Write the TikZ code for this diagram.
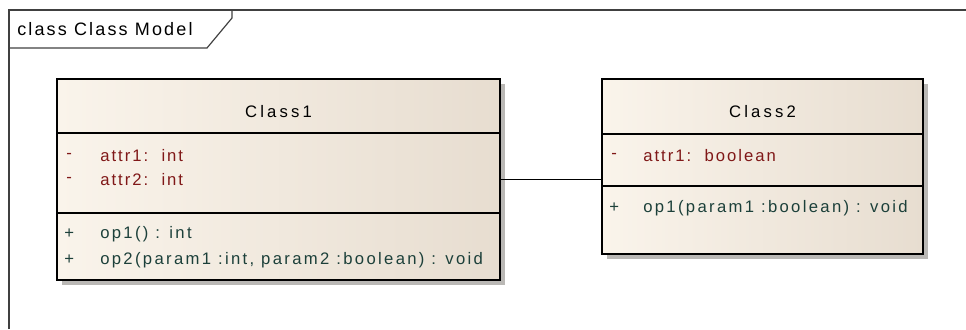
\documentclass[tikz,border=0pt]{standalone}
\usepackage{fontspec}
\setmainfont{Liberation Sans}[LetterSpace=12]

\definecolor{attrred}{RGB}{128,24,24}
\definecolor{opgreen}{RGB}{28,64,58}
\definecolor{boxdark}{RGB}{231,221,208}
\definecolor{boxlight}{RGB}{250,244,235}
\definecolor{shadowgray}{RGB}{186,184,181}

\tikzset{
  classbox/.style={draw, line width=1.2pt, rectangle, inner sep=0pt,
    left color=boxlight, right color=boxdark},
  shadowbox/.style={fill=shadowgray, draw=none},
  membertext/.style={anchor=west, inner sep=0pt, font=\fontsize{12.5}{14}\selectfont},
  attrtext/.style={membertext, text=attrred},
  optext/.style={membertext, text=opgreen, font=\fontsize{12.5}{14}\selectfont\addfontfeatures{LetterSpace=14}},
  titletext/.style={inner sep=0pt, font=\fontsize{12.5}{14}\selectfont\addfontfeatures{LetterSpace=19}}
}

\begin{document}
\begin{tikzpicture}[x=0.75pt,y=0.75pt,yscale=-1,xscale=1]
	\useasboundingbox (0,0) rectangle (966,329);

	% diagram frame and its name tab
	\draw [line width=1pt, draw=black!75] (9,329) -- (9,10) -- (966,10) ;
	\draw [line width=0.9pt, draw=black!75] (9,48) -- (207,48) -- (232,18) -- (232,10) ;
	\node [anchor=west, inner sep=0pt, font=\fontsize{13.5}{15}\selectfont] (frametab) at (17,29) {class Class Model};

	% drop shadows
	\fill [shadowbox] (62,84) rectangle (505,285) ;
	\fill [shadowbox] (607,84) rectangle (928,259) ;

	% Class1
	\node [classbox, minimum width=332.25pt, minimum height=150.75pt] (class1) at (278.5,179.5) {};
	\draw [line width=0.9pt] (57,133) -- (500,133) ;
	\draw [line width=0.9pt] (57,213) -- (500,213) ;
	\node [titletext] (class1name) at (278.5,112) {Class1};
	\node [attrtext] (c1vis1) at (66,156) {-};
	\node [attrtext] (c1attr1) at (100,156) {attr1:~~int};
	\node [attrtext] (c1vis2) at (66,180) {-};
	\node [attrtext] (c1attr2) at (100,180) {attr2:~~int};
	\node [optext] (c1vis3) at (64,234) {+};
	\node [optext] (c1op1) at (100,234) {op1() : int};
	\node [optext] (c1vis4) at (64,260) {+};
	\node [optext] (c1op2) at (100,260) {op2(param1 :int, param2 :boolean) : void};

	% Class2
	\node [classbox, minimum width=240.75pt, minimum height=131.25pt] (class2) at (762.5,166.5) {};
	\draw [line width=0.9pt] (602,134) -- (923,134) ;
	\draw [line width=0.9pt] (602,186) -- (923,186) ;
	\node [titletext] (class2name) at (762.5,112) {Class2};
	\node [attrtext] (c2vis1) at (611,156) {-};
	\node [attrtext] (c2attr1) at (643,156) {attr1:~~boolean};
	\node [optext] (c2vis2) at (609,208) {+};
	\node [optext] (c2op1) at (643,208) {op1(param1 :boolean) : void};

	% association
	\draw [line width=0.9pt] (class1.east) -- (class1.east -| class2.west) ;

\end{tikzpicture}
\end{document}
